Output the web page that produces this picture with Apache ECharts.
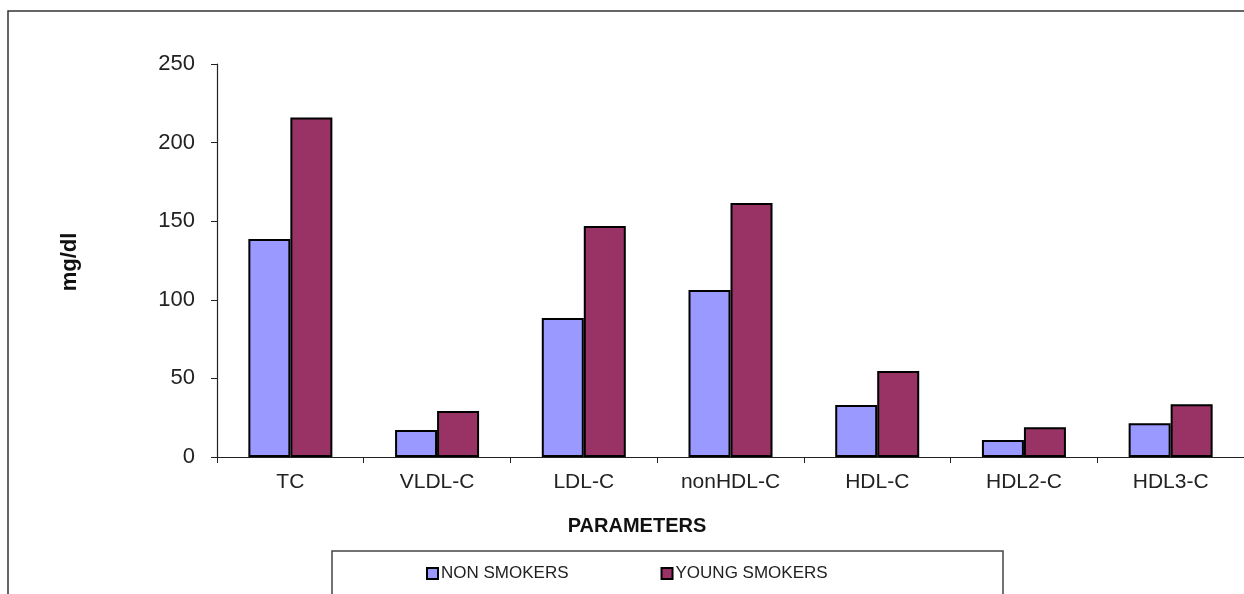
<!DOCTYPE html>
<html>
<head>
<meta charset="utf-8">
<script src="https://cdn.jsdelivr.net/npm/echarts@6/dist/echarts.min.js"></script>
<style>html,body{margin:0;padding:0;background:#fff;}#c{width:1244px;height:594px;}</style>
</head>
<body>
<div id="c"></div>
<script>
const categories = ['TC', 'VLDL-C', 'LDL-C', 'nonHDL-C', 'HDL-C', 'HDL2-C', 'HDL3-C'];
const nonSmokers = [138.7, 17.2, 88.4, 106.2, 33, 10.8, 21.4];
const youngSmokers = [216, 29.3, 147, 161.6, 54.7, 18.9, 33.5];
const seriesNames = ['NON SMOKERS', 'YOUNG SMOKERS'];
const yTicks = { min: 0, max: 250, interval: 50 };

const font = 'Arial, "Liberation Sans", sans-serif';
const chart = echarts.init(document.getElementById('c'), null, { renderer: 'canvas' });
chart.setOption({
  animation: false,
  backgroundColor: '#fff',
  grid: { left: 217, top: 64, height: 393, width: 1043, containLabel: false },
  graphic: [
    { type: 'rect', shape: { x: 8, y: 11, width: 1300, height: 700 }, style: { fill: 'none', stroke: '#333', lineWidth: 1.5 }, z: 0 },
    { type: 'rect', shape: { x: 332, y: 551, width: 671, height: 80 }, style: { fill: 'none', stroke: '#444', lineWidth: 1.5 }, z: 0 },
    { type: 'text', x: 637, y: 526, style: { text: 'PARAMETERS', font: 'bold 20px ' + font, fill: '#111', textAlign: 'center', textVerticalAlign: 'middle' } },
    { type: 'text', x: 70, y: 262, rotation: Math.PI / 2, style: { text: 'mg/dl', font: 'bold 22px ' + font, fill: '#111', textAlign: 'center', textVerticalAlign: 'middle' } }
  ],
  legend: {
    left: 426, top: 565, padding: 0,
    itemWidth: 11, itemHeight: 11, itemGap: 92,
    icon: 'rect',
    textStyle: { fontSize: 17, fontFamily: font, color: '#222', padding: [0, 0, 0, -2] },
    data: seriesNames
  },
  xAxis: {
    type: 'category',
    data: categories,
    boundaryGap: true,
    axisLine: { lineStyle: { color: '#222', width: 1.2 } },
    axisTick: { show: true, length: 6, lineStyle: { color: '#222' } },
    axisLabel: { fontSize: 21, fontFamily: font, color: '#222', margin: 15 }
  },
  yAxis: {
    type: 'value',
    min: yTicks.min, max: yTicks.max, interval: yTicks.interval,
    axisLine: { show: true, lineStyle: { color: '#222', width: 1.2 } },
    axisTick: { show: true, length: 6, lineStyle: { color: '#222' } },
    splitLine: { show: false },
    axisLabel: { fontSize: 22, fontFamily: font, color: '#222', margin: 22 }
  },
  series: [
    { name: seriesNames[0], type: 'bar', data: nonSmokers, barWidth: 42, barGap: '0%',
      itemStyle: { color: '#9999FF', borderColor: '#000', borderWidth: 2 } },
    { name: seriesNames[1], type: 'bar', data: youngSmokers, barWidth: 42, barGap: '0%',
      itemStyle: { color: '#993366', borderColor: '#000', borderWidth: 2 } }
  ]
});
</script>
</body>
</html>
